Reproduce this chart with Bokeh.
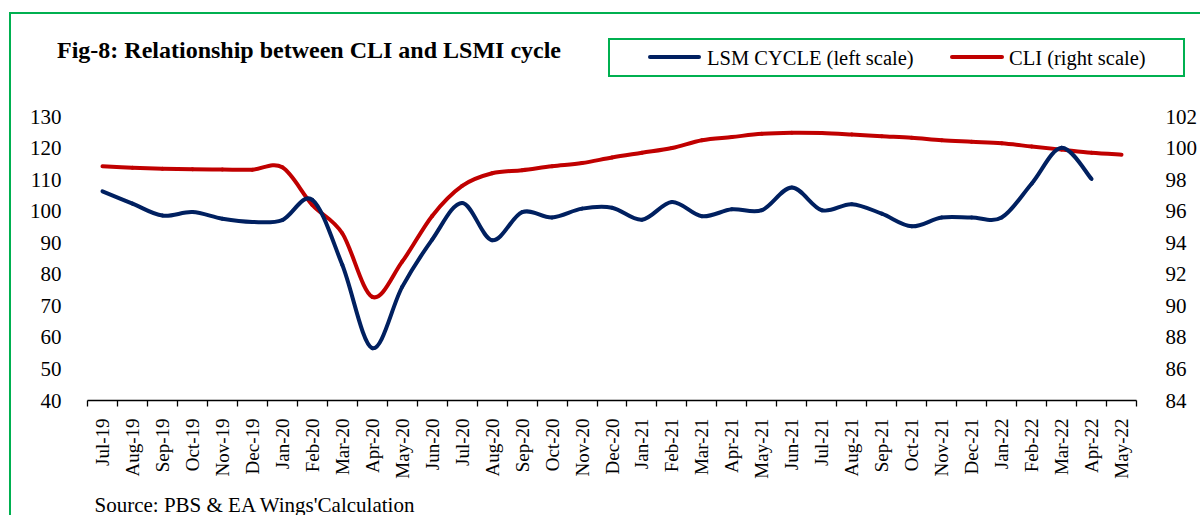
import math
from bokeh.plotting import figure
from bokeh.layouts import column
from bokeh.models import (Range1d, LinearAxis, FixedTicker, ColumnDataSource,
                          Label, Div)
from bokeh.embed import file_html
from bokeh.resources import INLINE

# ---------------- data ----------------
months = ["Jul-19", "Aug-19", "Sep-19", "Oct-19", "Nov-19", "Dec-19",
          "Jan-20", "Feb-20", "Mar-20", "Apr-20", "May-20", "Jun-20",
          "Jul-20", "Aug-20", "Sep-20", "Oct-20", "Nov-20", "Dec-20",
          "Jan-21", "Feb-21", "Mar-21", "Apr-21", "May-21", "Jun-21",
          "Jul-21", "Aug-21", "Sep-21", "Oct-21", "Nov-21", "Dec-21",
          "Jan-22", "Feb-22", "Mar-22", "Apr-22", "May-22"]

lsm_cycle = [106.3, 102.4, 98.6, 99.7, 97.6, 96.6, 97.2, 103.6, 83.0, 56.6,
             76.0, 91.0, 102.6, 90.8, 99.7, 98.0, 100.8, 101.1, 97.3, 102.9,
             98.4, 100.6, 100.3, 107.5, 100.3, 102.2, 99.2, 95.2, 98.0, 98.0,
             98.0, 108.7, 120.1, 110.2]

cli = [98.84, 98.75, 98.69, 98.65, 98.64, 98.63, 98.78, 96.4, 94.6, 90.57,
       92.8, 95.7, 97.6, 98.4, 98.6, 98.85, 99.05, 99.4, 99.7, 100.0,
       100.5, 100.7, 100.9, 100.97, 100.95, 100.86, 100.75, 100.65, 100.5,
       100.4, 100.3, 100.1, 99.9, 99.7, 99.58]

left_ticks = [40, 50, 60, 70, 80, 90, 100, 110, 120, 130]
right_ticks = [84, 86, 88, 90, 92, 94, 96, 98, 100, 102]

title_text = "Fig-8: Relationship between CLI and LSMI cycle"
source_text = "Source: PBS & EA Wings'Calculation"
lsm_label = "LSM CYCLE (left scale)"
cli_label = "CLI (right scale)"

FONT = "Liberation Serif"
BLUE = "#002060"
RED = "#C00000"
GREEN = "#00B050"
W = 1200
TOP_H, MAIN_H, BOT_H = 100, 390, 25

GRAD = "linear-gradient(%s,%s)" % (GREEN, GREEN)
LEFT_LINE = GRAD + " 9px 0 / 2px 100% no-repeat"


def smooth_segments(ys):
    """Bezier segments (Catmull-Rom style, like a spreadsheet 'smoothed line')."""
    xs = [i + 0.5 for i in range(len(ys))]
    n = len(ys)
    d = dict(x0=[], y0=[], x1=[], y1=[], cx0=[], cy0=[], cx1=[], cy1=[])
    for i in range(n - 1):
        im, ip = max(i - 1, 0), min(i + 2, n - 1)
        d["x0"].append(xs[i]); d["y0"].append(ys[i])
        d["x1"].append(xs[i + 1]); d["y1"].append(ys[i + 1])
        d["cx0"].append(xs[i] + (xs[i + 1] - xs[im]) / 6.0)
        d["cy0"].append(ys[i] + (ys[i + 1] - ys[im]) / 6.0)
        d["cx1"].append(xs[i + 1] - (xs[ip] - xs[i]) / 6.0)
        d["cy1"].append(ys[i + 1] - (ys[ip] - ys[i]) / 6.0)
    return ColumnDataSource(d)


# ---------------- header: title + legend (HTML) ----------------
def box(left, top, width, height, extra=""):
    return ('<div style="position:absolute;left:%spx;top:%spx;width:%spx;'
            'height:%spx;%s"></div>' % (left, top, width, height, extra))


def txt(left, top, size, content, weight="normal"):
    return ('<div style="position:absolute;left:%spx;top:%spx;white-space:nowrap;'
            'font-family:\'%s\';font-size:%spx;line-height:1;font-weight:%s;'
            'color:#000000;">%s</div>' % (left, top, FONT, size, weight, content))


header_html = (
    '<div style="position:relative;width:%dpx;height:%dpx;overflow:hidden;'
    'background:#ffffff;">' % (W, TOP_H)
    + box(9, 12, 2, TOP_H - 12, "background:%s;" % GREEN)
    + box(9, 12, W - 9, 2, "background:%s;" % GREEN)
    + txt(57, 38, 24, title_text, "bold")
    + box(608, 38, 577, 39, "border:2px solid %s;box-sizing:border-box;" % GREEN)
    + box(648, 55, 53, 4, "background:%s;border-radius:2px;" % BLUE)
    + txt(707, 47.5, 20.5, lsm_label)
    + box(950, 55, 54, 4, "background:%s;border-radius:2px;" % RED)
    + txt(1009, 47.5, 20.5, cli_label)
    + '</div>'
)
header = Div(text=header_html, width=W, height=TOP_H, margin=0)

# ---------------- main chart ----------------
p = figure(width=W, height=MAIN_H, output_backend="svg", toolbar_location=None,
           title=None,
           x_range=Range1d(0, len(months)), y_range=Range1d(40, 130),
           min_border_left=87, min_border_right=60, min_border_top=16,
           min_border_bottom=90)
p.extra_y_ranges = {"cli": Range1d(84, 102)}
p.background_fill_color = "white"
p.border_fill_color = None
p.outline_line_color = None
p.xgrid.visible = False
p.ygrid.visible = False
p.styles = {"background": LEFT_LINE + ", #ffffff"}

centers = [i + 0.5 for i in range(len(months))]
xa = p.xaxis[0]
xa.ticker = FixedTicker(ticks=centers, minor_ticks=list(range(len(months) + 1)))
xa.major_label_overrides = {c: m for c, m in zip(centers, months)}
xa.major_label_orientation = math.pi / 2
xa.major_tick_out = 0
xa.major_tick_in = 0
xa.minor_tick_out = 6
xa.minor_tick_in = 0
xa.minor_tick_line_color = "black"
xa.minor_tick_line_width = 1.3
xa.axis_line_color = "black"
xa.axis_line_width = 1.3
xa.major_label_standoff = 12
xa.major_label_text_font = FONT
xa.major_label_text_font_size = "19px"
xa.major_label_text_color = "black"

ya = p.yaxis[0]
ya.ticker = FixedTicker(ticks=left_ticks)
ya.axis_line_color = None
ya.major_tick_line_color = None
ya.minor_tick_line_color = None
ya.major_label_standoff = 20
ya.major_label_text_font = FONT
ya.major_label_text_font_size = "21px"
ya.major_label_text_color = "black"

ra = LinearAxis(y_range_name="cli", ticker=FixedTicker(ticks=right_ticks))
ra.axis_line_color = None
ra.major_tick_line_color = None
ra.minor_tick_line_color = None
ra.major_label_standoff = 23
ra.major_label_text_font = FONT
ra.major_label_text_font_size = "21px"
ra.major_label_text_color = "black"
p.add_layout(ra, "right")

cli_src = smooth_segments(cli)
lsm_src = smooth_segments(lsm_cycle)
p.bezier(x0="x0", y0="y0", x1="x1", y1="y1", cx0="cx0", cy0="cy0",
         cx1="cx1", cy1="cy1", source=cli_src, line_color=RED,
         line_width=4, line_cap="round", y_range_name="cli")
p.bezier(x0="x0", y0="y0", x1="x1", y1="y1", cx0="cx0", cy0="cy0",
         cx1="cx1", cy1="cy1", source=lsm_src, line_color=BLUE,
         line_width=4, line_cap="round")

# ---------------- footer: source ----------------
bot = figure(width=W, height=BOT_H, output_backend="svg",
             toolbar_location=None, title=None,
             x_axis_location=None, y_axis_location=None,
             x_range=Range1d(0, 1), y_range=Range1d(0, 1),
             min_border_left=87, min_border_right=60,
             min_border_top=0, min_border_bottom=0)
bot.outline_line_color = None
bot.background_fill_color = None
bot.border_fill_color = None
bot.xgrid.visible = False
bot.ygrid.visible = False
bot.styles = {"background": LEFT_LINE + ", #ffffff"}
bot.add_layout(Label(x=7, y=BOT_H - 14.5, x_units="screen", y_units="screen",
                     text=source_text, text_font=FONT, text_font_size="21px",
                     text_color="black", text_baseline="middle"))

layout = column(header, p, bot, spacing=0)
open("out.html", "w").write(file_html(layout, INLINE))
